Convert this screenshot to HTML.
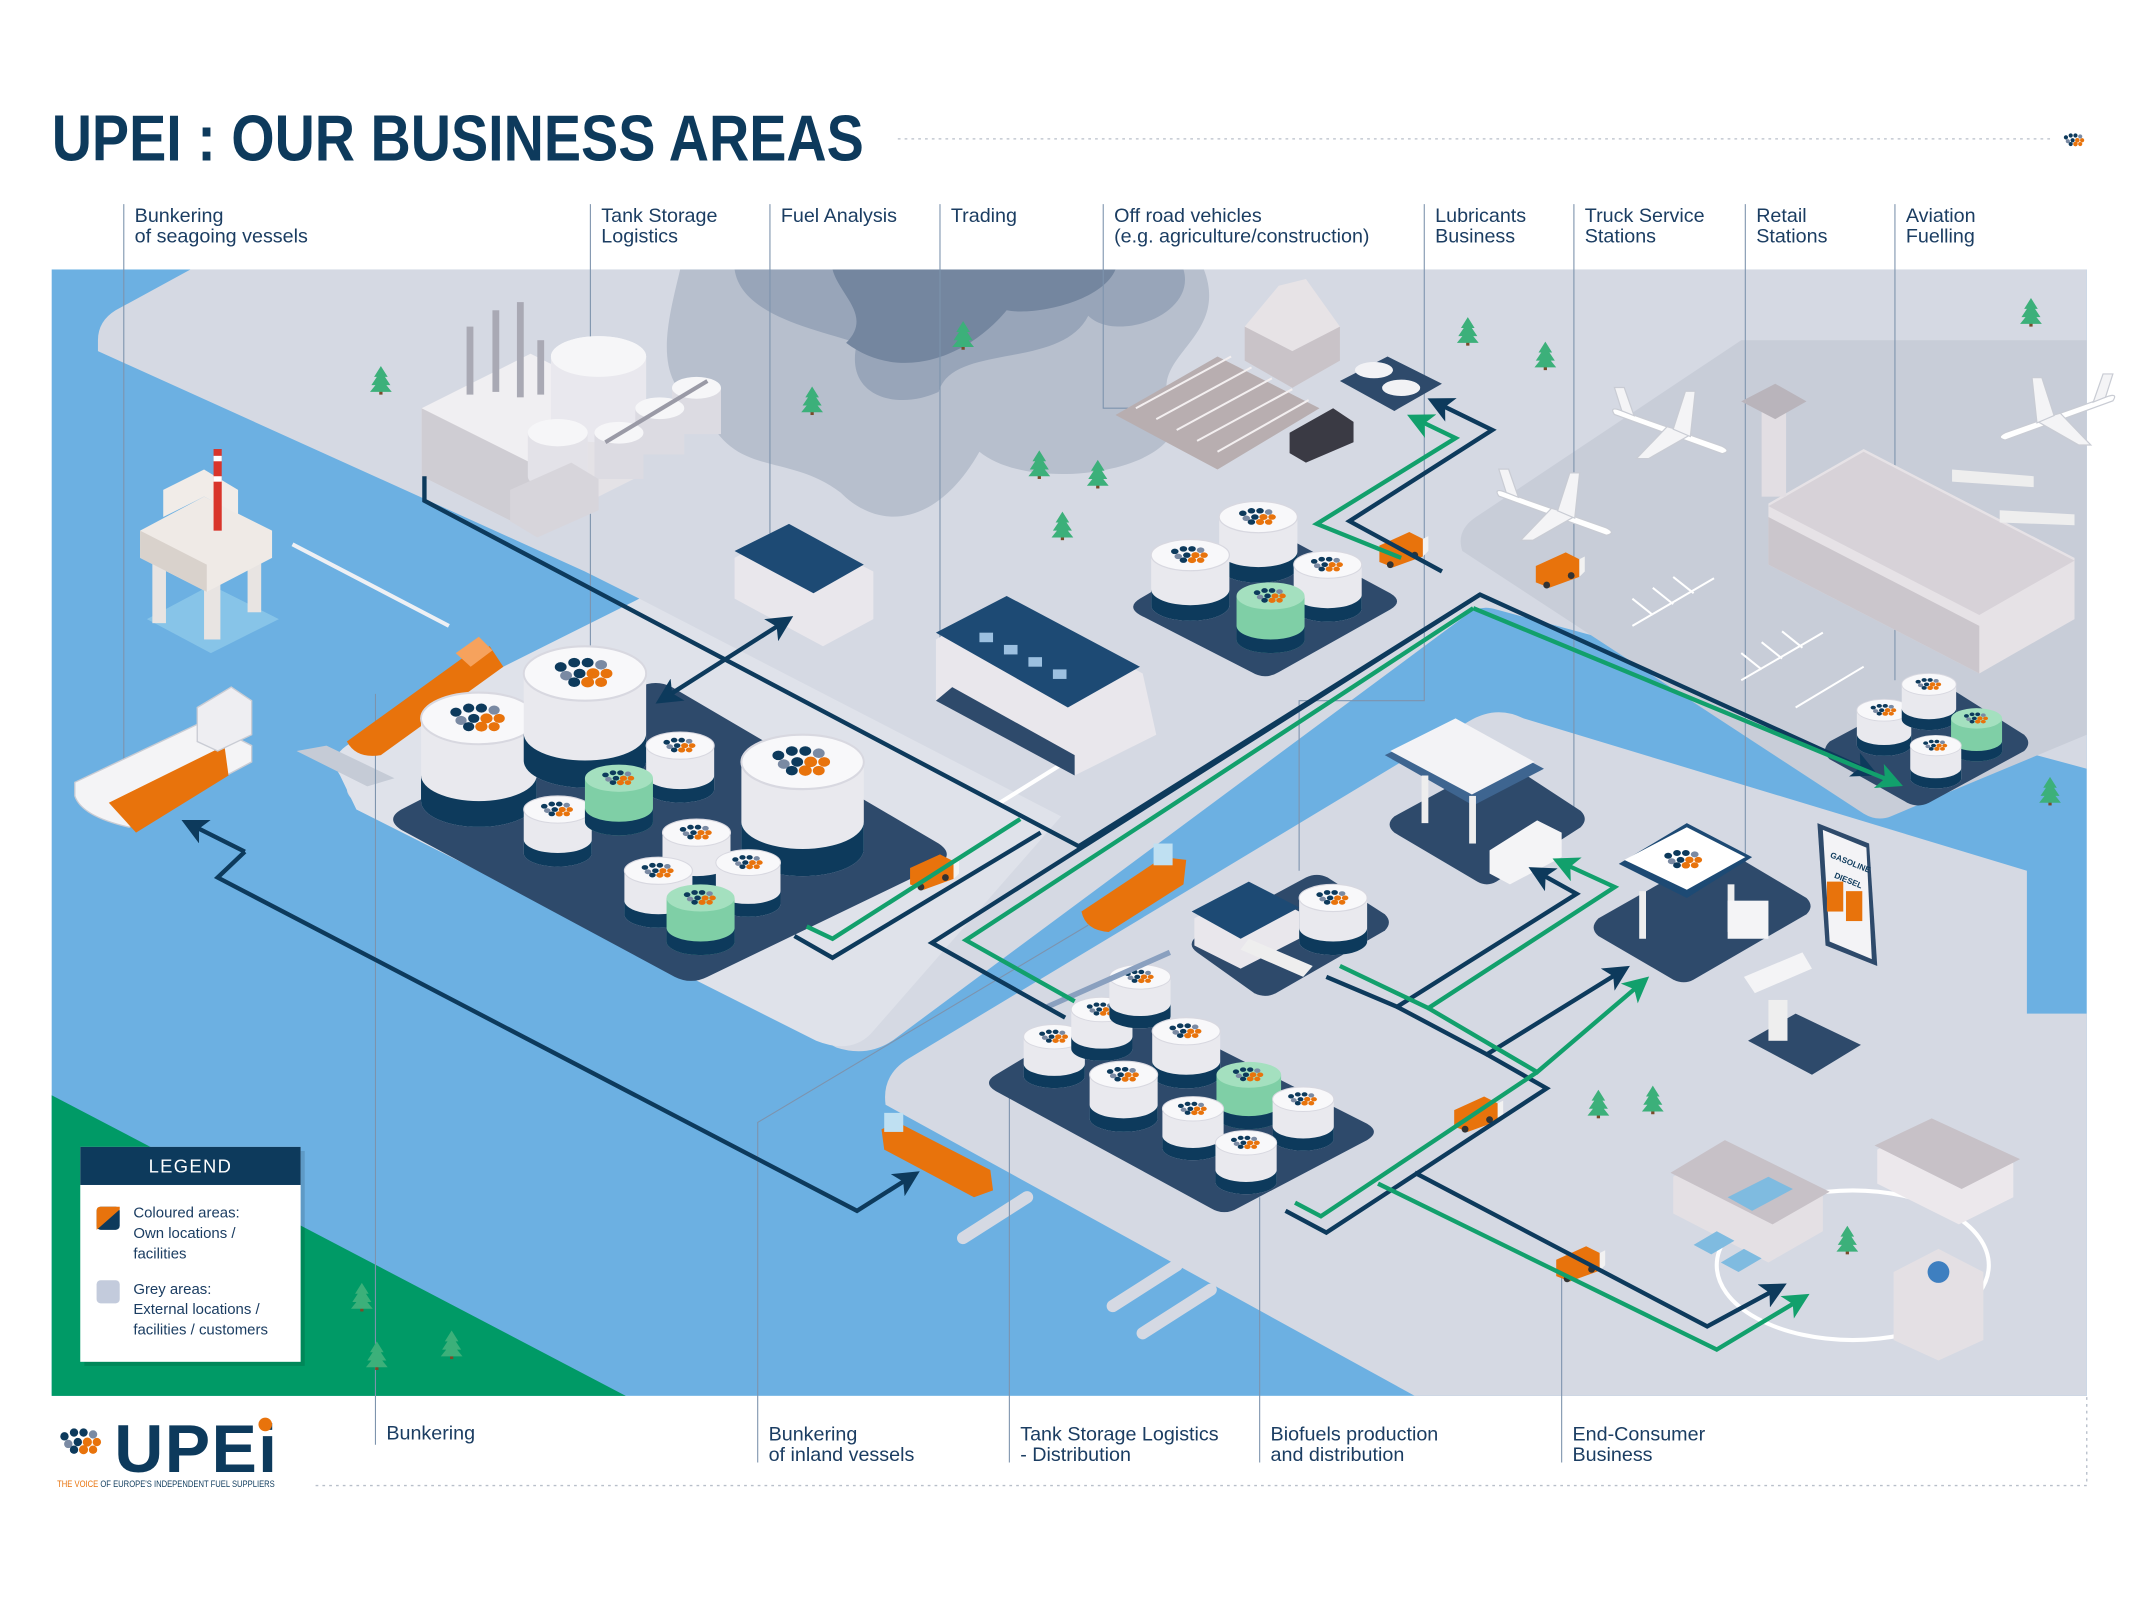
<!DOCTYPE html>
<html><head><meta charset="utf-8"><style>
html,body{margin:0;padding:0;background:#fff;}
svg{display:block;}
text{font-family:"Liberation Sans",sans-serif;}
</style></head><body>
<svg width="2133" height="1600" viewBox="0 0 1568 1176" xmlns="http://www.w3.org/2000/svg">
<defs>
<marker id="an" markerWidth="6" markerHeight="6" refX="3" refY="3" orient="auto" markerUnits="strokeWidth"><path d="M0,0 L6,3 L0,6 L1.5,3Z" fill="#0d3a5c"/></marker>
<marker id="ag" markerWidth="6" markerHeight="6" refX="3" refY="3" orient="auto" markerUnits="strokeWidth"><path d="M0,0 L6,3 L0,6 L1.5,3Z" fill="#12a06c"/></marker>
<marker id="as" markerWidth="6" markerHeight="6" refX="3" refY="3" orient="auto-start-reverse" markerUnits="strokeWidth"><path d="M0,0 L6,3 L0,6 L1.5,3Z" fill="#0d3a5c"/></marker>
<g id="dots">
<circle cx="-9" cy="-3" r="2.2" fill="#0d3a5c"/><circle cx="-4" cy="-5" r="2.2" fill="#0d3a5c"/><circle cx="1" cy="-5" r="2.2" fill="#0d3a5c"/><circle cx="6" cy="-4" r="2.2" fill="#7a8aa3"/>
<circle cx="-7" cy="1" r="2.2" fill="#7a8aa3"/><circle cx="-2" cy="0" r="2.2" fill="#0d3a5c"/><circle cx="3" cy="0" r="2.4" fill="#e8730c"/><circle cx="8" cy="0" r="2.2" fill="#e8730c"/>
<circle cx="-4" cy="4" r="2.2" fill="#0d3a5c"/><circle cx="1" cy="4" r="2.4" fill="#e8730c"/><circle cx="6" cy="4" r="2.2" fill="#e8730c"/>
</g>
<g id="tk">
<path d="M-25,0 v32 a25,10 0 0 0 50,0 v-32z" fill="#e9e9ee"/>
<path d="M-25,22 v10 a25,10 0 0 0 50,0 v-10 a25,10 0 0 1 -50,0z" fill="#0d3a5c"/>
<ellipse cx="0" cy="0" rx="25" ry="10" fill="#f8f8fa" stroke="#d8d8e0" stroke-width="0.8"/>
<use href="#dots" transform="scale(1.1,0.8)"/>
</g>
<g id="tg">
<path d="M-25,0 v32 a25,10 0 0 0 50,0 v-32z" fill="#7fcfa6"/>
<path d="M-25,22 v10 a25,10 0 0 0 50,0 v-10 a25,10 0 0 1 -50,0z" fill="#0d3a5c"/>
<ellipse cx="0" cy="0" rx="25" ry="10" fill="#a4e0bf"/>
<use href="#dots" transform="scale(1.1,0.8)"/>
</g>
<g id="tree"><rect x="-1.2" y="2" width="2.4" height="5" fill="#7a4b2a"/><path d="M0,-14 L-5,-6 L-3,-6 L-7,0 L-4,0 L-8,5 L8,5 L4,0 L7,0 L3,-6 L5,-6Z" fill="#3cb07a"/></g>
<g id="truck"><path d="M-16,-4 L6,-14 L16,-9 L16,4 L-6,12 L-16,8Z" fill="#e8730c"/><path d="M6,-14 L16,-9 L20,-11 L20,0 L16,4 L16,-9" fill="#f2f2f2"/><circle cx="-8" cy="10" r="2.5" fill="#333"/><circle cx="10" cy="3" r="2.5" fill="#333"/></g>
<g id="plane"><path d="M-45,-10 L40,20 Q48,24 40,26 L-48,-6 Q-52,-12 -45,-10Z" fill="#fff" stroke="#c9ccd4"/><path d="M-5,4 L-30,30 L-20,30 L15,10Z" fill="#f4f4f6" stroke="#c9ccd4"/><path d="M0,6 L10,-25 L18,-25 L14,12Z" fill="#f4f4f6" stroke="#c9ccd4"/><path d="M-42,-9 L-48,-28 L-40,-28 L-32,-5Z" fill="#f4f4f6" stroke="#c9ccd4"/></g>
</defs>

<rect width="1568" height="1176" fill="#fff"/>

<!-- Title -->
<text x="38" y="118" font-size="48" font-weight="bold" fill="#0d3a5c" textLength="597" lengthAdjust="spacingAndGlyphs">UPEI : OUR BUSINESS AREAS</text>
<line x1="660" y1="102" x2="1508" y2="102" stroke="#b8bfca" stroke-width="1" stroke-dasharray="2,3"/>
<g transform="translate(1525,103) scale(0.7)"><use href="#dots"/></g>

<!-- Map base -->
<rect x="38" y="198" width="1496" height="828" fill="#6cb0e2"/>
<path d="M72,250 Q72,236 85,228 L140,198 L1534,198 L1534,565 L1100,448 Q1088,444 1078,452 L660,762 Q640,778 615,770 L262,590 Q248,580 262,570 L470,440 L430,420 L72,258Z" fill="#d5d9e3"/>
<path d="M250,570 Q240,555 260,545 L470,440 L780,600 L640,760 Q625,775 600,765 L262,595Z" fill="#dfe2ea"/>
<path d="M1075,405 Q1070,390 1085,380 L1280,250 L1534,250 L1534,540 L1390,600 Q1380,604 1370,598Z" fill="#c8cdd8"/>
<path d="M651,812 Q648,790 668,778 L1080,530 Q1100,518 1120,528 L1490,640 L1490,745 L1534,745 L1534,1026 L1040,1026 Z" fill="#d5d9e3"/>
<path d="M38,805 L460,1026 L38,1026Z" fill="#009a66"/>
<path d="M500,198 L885,198 C905,250 840,262 862,300 C880,345 760,365 720,332 C690,385 648,392 618,362 C578,332 540,352 518,302 C478,282 490,240 500,198Z" fill="#b7bfcd"/>
<path d="M540,198 L870,198 C880,232 820,252 800,232 C780,272 700,252 690,288 C660,302 620,292 630,252 C600,242 545,232 540,198Z" fill="#98a5b9"/>
<path d="M612,198 L820,198 C810,222 760,232 740,228 C712,262 662,282 622,252 C642,232 617,217 612,198Z" fill="#74869f"/>
<line x1="215" y1="400" x2="330" y2="460" stroke="#eef0f4" stroke-width="3"/>
<line x1="735" y1="590" x2="780" y2="562" stroke="#fff" stroke-width="3"/>
<path d="M218,552 L240,548 L290,572 L270,578Z" fill="#c5cbd6"/>
<g stroke="#d5d9e3" stroke-width="9" stroke-linecap="round">
<line x1="708" y1="910" x2="755" y2="880"/>
<line x1="818" y1="960" x2="865" y2="930"/>
<line x1="840" y1="980" x2="890" y2="948"/>
</g>

<!-- label lines -->
<g stroke="#7d93ad" stroke-width="0.8" fill="none">
<line x1="91" y1="150" x2="91" y2="590"/>
<line x1="434" y1="150" x2="434" y2="480"/>
<line x1="566" y1="150" x2="566" y2="392"/>
<line x1="691" y1="150" x2="691" y2="470"/>
<path d="M811,150 V300 H880"/>
<path d="M1047,150 V515 H955 V640"/>
<line x1="1157" y1="150" x2="1157" y2="610"/>
<line x1="1283" y1="150" x2="1283" y2="640"/>
<line x1="1393" y1="150" x2="1393" y2="500"/>
<line x1="276" y1="1062" x2="276" y2="510"/>
<path d="M557,1075 V825 L800,680"/>
<line x1="742" y1="1075" x2="742" y2="800"/>
<line x1="926" y1="1075" x2="926" y2="880"/>
<line x1="1148" y1="1075" x2="1148" y2="925"/>
</g>
<g font-size="14.5" fill="#1b3d62">
<text x="99" y="163">Bunkering</text><text x="99" y="178">of seagoing vessels</text>
<text x="442" y="163">Tank Storage</text><text x="442" y="178">Logistics</text>
<text x="574" y="163">Fuel Analysis</text>
<text x="699" y="163">Trading</text>
<text x="819" y="163">Off road vehicles</text><text x="819" y="178">(e.g. agriculture/construction)</text>
<text x="1055" y="163">Lubricants</text><text x="1055" y="178">Business</text>
<text x="1165" y="163">Truck Service</text><text x="1165" y="178">Stations</text>
<text x="1291" y="163">Retail</text><text x="1291" y="178">Stations</text>
<text x="1401" y="163">Aviation</text><text x="1401" y="178">Fuelling</text>
<text x="284" y="1058">Bunkering</text>
<text x="565" y="1059">Bunkering</text><text x="565" y="1074">of inland vessels</text>
<text x="750" y="1059">Tank Storage Logistics</text><text x="750" y="1074">- Distribution</text>
<text x="934" y="1059">Biofuels production</text><text x="934" y="1074">and distribution</text>
<text x="1156" y="1059">End-Consumer</text><text x="1156" y="1074">Business</text>
</g>
<path d="M232,1092 H1534 V1026" stroke="#b8bfca" stroke-width="1" stroke-dasharray="2,3" fill="none"/>

<!-- refinery -->
<g>
<path d="M310,300 L390,260 L470,300 L470,350 L390,390 L310,350Z" fill="#e4e2e6"/>
<path d="M310,300 L390,340 L390,390 L310,350Z" fill="#cfcdd3"/>
<path d="M310,300 L390,260 L470,300 L390,340Z" fill="#f0eff2"/>
<g fill="#a9a9b4"><rect x="343" y="240" width="5" height="50"/><rect x="362" y="228" width="5" height="60"/><rect x="380" y="222" width="5" height="70"/><rect x="395" y="250" width="5" height="40"/></g>
<ellipse cx="440" cy="262" rx="35" ry="15" fill="#f3f3f6"/><path d="M405,262 V310 A35,15 0 0 0 475,310 V262Z" fill="#e9e8ee"/><ellipse cx="440" cy="262" rx="35" ry="15" fill="#f6f6f8"/>
<ellipse cx="410" cy="318" rx="22" ry="10" fill="#f6f6f8"/><path d="M388,318 V350 A22,10 0 0 0 432,350 V318Z" fill="#e3e2e8"/><ellipse cx="410" cy="318" rx="22" ry="10" fill="#f6f6f8"/>
<g fill="#dcdbe2"><rect x="437" y="318" width="36" height="34"/><rect x="467" y="300" width="36" height="34"/><rect x="494" y="285" width="36" height="34"/></g>
<g fill="#f6f6f8"><ellipse cx="455" cy="318" rx="18" ry="8"/><ellipse cx="485" cy="300" rx="18" ry="8"/><ellipse cx="512" cy="285" rx="18" ry="8"/></g>
<path d="M445,325 L520,280" stroke="#9a9aa6" stroke-width="3"/>
<path d="M375,360 L420,340 L440,352 L440,375 L395,395 L375,383Z" fill="#d7d5db"/>
</g>

<!-- oil platform -->
<g>
<path d="M108,455 L155,430 L205,455 L155,480Z" fill="#8fc9ea" opacity="0.8"/>
<rect x="112" y="408" width="10" height="50" fill="#e8e4e2"/><rect x="150" y="420" width="12" height="50" fill="#e8e4e2"/><rect x="182" y="405" width="10" height="45" fill="#e8e4e2"/>
<path d="M103,390 L150,365 L200,390 L200,410 L152,435 L103,410Z" fill="#efeae6"/>
<path d="M103,390 L152,415 L152,435 L103,410Z" fill="#d9d2cc"/>
<path d="M120,380 L150,365 L175,378 L175,360 L150,345 L120,360Z" fill="#f1ece8"/>
<rect x="157" y="330" width="6" height="60" fill="#d9352b"/><rect x="157" y="335" width="6" height="4" fill="#fff"/><rect x="157" y="350" width="6" height="4" fill="#fff"/>
</g>

<!-- ships -->
<g>
<path d="M55,575 L150,530 L185,548 L185,560 L95,608 Q60,600 55,585Z" fill="#f4f4f6" stroke="#c9ccd4"/>
<path d="M80,590 L165,548 L168,570 L100,612Z" fill="#e8730c"/>
<path d="M145,520 L170,505 L185,515 L185,540 L160,552 L145,545Z" fill="#eeeef2" stroke="#c9ccd4"/>
<path d="M255,545 L345,480 L360,475 L370,490 L280,555 Q262,558 255,545Z" fill="#e8730c"/>
<path d="M335,480 L352,468 L362,478 L346,490Z" fill="#f6a25d"/>
<path d="M795,670 L855,630 L872,632 L870,650 L815,685 Q798,684 795,670Z" fill="#e8730c"/>
<rect x="848" y="620" width="14" height="16" fill="#bfe0f2"/>
<path d="M648,830 L660,825 L728,860 L730,875 L716,880 L650,845Z" fill="#e8730c"/>
<rect x="650" y="818" width="14" height="14" fill="#bfe0f2"/>
</g>

<!-- platforms -->
<g fill="#2e4a6b">
<path d="M295,595 L470,505 Q482,499 494,505 L690,620 Q702,628 690,636 L520,718 Q508,724 496,718 L295,610 Q283,602 295,595Z"/>
<path d="M838,440 L920,392 Q930,386 940,392 L1022,436 Q1032,442 1022,448 L940,494 Q930,500 920,494 L838,452 Q828,446 838,440Z"/>
<path d="M732,790 L815,740 Q825,734 835,740 L1005,826 Q1015,832 1005,838 L910,888 Q900,894 890,888 L732,802 Q722,796 732,790Z"/>
<path d="M1345,545 L1418,506 Q1426,502 1434,506 L1488,540 Q1494,546 1488,552 L1418,590 Q1410,594 1402,590 L1345,558 Q1338,552 1345,545Z"/>
<path d="M880,688 L960,645 Q968,641 976,645 L1018,672 Q1024,678 1018,684 L938,730 Q930,734 922,730 L880,700 Q872,694 880,688Z"/>
<path d="M1025,600 L1095,562 Q1102,558 1110,562 L1162,596 Q1168,602 1162,608 L1100,648 Q1093,652 1086,648 L1025,612 Q1018,606 1025,600Z"/>
<path d="M1175,675 L1258,628 Q1266,624 1274,628 L1328,660 Q1334,666 1328,672 L1245,720 Q1238,724 1230,720 L1175,688 Q1168,682 1175,675Z"/>
<path d="M1285,765 L1320,745 L1368,768 L1332,790Z"/>
<path d="M985,280 L1020,262 L1060,282 L1025,302Z"/>
</g>

<!-- tanks -->
<use href="#tk" transform="translate(352,528) scale(1.7,1.9)"/>
<use href="#tk" transform="translate(430,495) scale(1.8,2)"/>
<use href="#tk" transform="translate(590,560) scale(1.8,2)"/>
<use href="#tk" transform="translate(500,548)"/>
<use href="#tk" transform="translate(410,595)"/>
<use href="#tg" transform="translate(455,572)"/>
<use href="#tk" transform="translate(512,612)"/>
<use href="#tk" transform="translate(550,634) scale(0.95)"/>
<use href="#tk" transform="translate(484,640)"/>
<use href="#tg" transform="translate(515,660)"/>
<use href="#tk" transform="translate(925,380) scale(1.15)"/>
<use href="#tk" transform="translate(875,408) scale(1.15)"/>
<use href="#tk" transform="translate(976,415)"/>
<use href="#tg" transform="translate(934,438)"/>
<use href="#tk" transform="translate(775,762) scale(0.9)"/>
<use href="#tk" transform="translate(810,742) scale(0.9)"/>
<use href="#tk" transform="translate(838,718) scale(0.9)"/>
<use href="#tk" transform="translate(872,758)"/>
<use href="#tk" transform="translate(826,790)"/>
<use href="#tg" transform="translate(918,790) scale(0.95)"/>
<use href="#tk" transform="translate(958,808) scale(0.9)"/>
<use href="#tk" transform="translate(877,815) scale(0.9)"/>
<use href="#tk" transform="translate(916,840) scale(0.9)"/>
<use href="#tk" transform="translate(980,660)"/>
<use href="#tk" transform="translate(1385,522) scale(0.8)"/>
<use href="#tk" transform="translate(1418,503) scale(0.8)"/>
<use href="#tg" transform="translate(1453,528) scale(0.75)"/>
<use href="#tk" transform="translate(1423,548) scale(0.75)"/>
<path d="M770,740 L860,700" stroke="#8aa0bf" stroke-width="4"/>

<!-- warehouses -->
<g>
<path d="M540,410 L580,388 L642,420 L642,455 L605,475 L540,440Z" fill="#e9e7ec"/>
<path d="M540,405 L580,385 L635,415 L598,436Z" fill="#1d4a74"/>
<path d="M688,470 L740,440 L840,495 L850,540 L790,570 L688,515Z" fill="#e9e7ec"/>
<path d="M688,515 L790,570 L790,555 L700,505Z" fill="#2e4a6b"/>
<path d="M688,465 L740,438 L838,490 L785,520Z" fill="#1d4a74"/>
<g fill="#9cc0e0"><rect x="720" y="465" width="10" height="7"/><rect x="738" y="474" width="10" height="7"/><rect x="756" y="483" width="10" height="7"/><rect x="774" y="492" width="10" height="7"/></g>
<path d="M878,675 L920,652 L955,670 L955,690 L912,712 L878,695Z" fill="#e9e7ec"/>
<path d="M876,670 L918,648 L955,667 L912,690Z" fill="#1d4a74"/>
<path d="M918,690 L965,710 L958,718 L912,698Z" fill="#eee"/>
</g>

<!-- farm -->
<path d="M820,305 L895,262 L970,300 L895,345Z" fill="#b8aeb0"/>
<g stroke="#f3eff0" stroke-width="1.5"><path d="M835,300 L905,262 M850,308 L920,270 M865,316 L935,278 M880,324 L950,286 M895,332 L962,294"/></g>
<path d="M915,240 L950,220 L985,240 L985,265 L950,285 L915,265Z" fill="#c9c3c8"/>
<path d="M915,240 L940,210 L960,205 L985,240 L950,258Z" fill="#e7e3e6"/>
<path d="M948,318 L980,300 L995,310 L995,325 L960,340 L948,333Z" fill="#3a3a44"/>
<g fill="#f2f2f5"><ellipse cx="1010" cy="272" rx="14" ry="6"/><ellipse cx="1030" cy="285" rx="14" ry="6"/></g>

<!-- airport -->
<path d="M1300,370 L1370,330 L1525,410 L1525,455 L1455,495 L1300,415Z" fill="#e6e2e6"/>
<path d="M1300,415 L1455,495 L1455,460 L1300,380Z" fill="#cbc6cc"/>
<path d="M1300,372 L1370,332 L1525,412 L1455,452Z" fill="#d7d2d8"/>
<rect x="1295" y="300" width="18" height="65" fill="#e2dee3"/>
<path d="M1280,295 L1305,282 L1328,295 L1305,308Z" fill="#b9b4bb"/>
<path d="M1435,345 L1495,350 L1495,358 L1435,354Z" fill="#eee"/><path d="M1470,375 L1525,378 L1525,386 L1470,384Z" fill="#eee"/>
<g stroke="#fff" stroke-width="1.5"><path d="M1200,460 L1260,425 M1215,452 L1200,440 M1230,444 L1215,432 M1245,436 L1230,424 M1280,500 L1340,465 M1295,492 L1280,480 M1310,484 L1295,472 M1325,476 L1310,464 M1320,520 L1370,490"/></g>
<use href="#plane" transform="translate(1230,310) scale(0.9)"/>
<use href="#plane" transform="translate(1145,370) scale(0.9)"/>
<use href="#plane" transform="translate(1510,300) scale(0.9) scale(-1,1)"/>
<use href="#truck" transform="translate(1145,420)"/>

<!-- stations -->
<path d="M1018,555 L1070,530 L1135,565 L1083,592Z" fill="#3e6590"/><path d="M1022,552 L1070,528 L1128,560 L1082,584Z" fill="#f3f3f6"/>
<rect x="1045" y="570" width="5" height="35" fill="#eee"/><rect x="1080" y="585" width="5" height="35" fill="#eee"/>
<path d="M1095,625 L1130,603 L1148,612 L1148,630 L1110,650 L1095,642Z" fill="#f4f4f6"/>
<path d="M1190,635 L1240,605 L1288,630 L1240,660Z" fill="#1d4a74"/><path d="M1194,632 L1240,608 L1283,630 L1240,654Z" fill="#fff"/>
<use href="#dots" transform="translate(1238,632) scale(1.3,1)"/>
<rect x="1205" y="655" width="5" height="35" fill="#eee"/><rect x="1270" y="650" width="5" height="35" fill="#eee"/>
<rect x="1270" y="662" width="30" height="28" fill="#f4f4f6"/>
<path d="M1282,718 L1325,700 L1332,712 L1290,730Z" fill="#f4f4f6"/>
<rect x="1300" y="735" width="14" height="30" fill="#eee"/>
<path d="M1336,605 L1374,620 L1380,710 L1342,695Z" fill="#2e4a6b"/><path d="M1340,610 L1372,623 L1376,705 L1345,692Z" fill="#f3f3f6"/>
<rect x="1343" y="648" width="12" height="22" fill="#e8730c"/><rect x="1357" y="655" width="12" height="22" fill="#e8730c"/>
<text x="1345" y="630" font-size="6" font-weight="bold" fill="#0d3a5c" transform="rotate(22 1345 630)">GASOLINE</text>
<text x="1348" y="645" font-size="6" font-weight="bold" fill="#0d3a5c" transform="rotate(22 1348 645)">DIESEL</text>

<!-- end consumer -->
<ellipse cx="1362" cy="930" rx="100" ry="55" fill="none" stroke="#fff" stroke-width="3"/>
<path d="M1230,865 L1270,842 L1340,878 L1340,905 L1300,928 L1230,892Z" fill="#e4e0e4"/>
<path d="M1228,862 L1268,838 L1345,876 L1303,900Z" fill="#c7c1c7"/>
<g fill="#7fbbe0"><path d="M1270,880 L1300,865 L1318,874 L1288,890Z"/><path d="M1245,915 L1262,905 L1275,912 L1258,922Z"/><path d="M1265,928 L1282,918 L1295,925 L1278,935Z"/></g>
<path d="M1380,845 L1420,825 L1480,855 L1480,880 L1440,900 L1380,870Z" fill="#ece8ec"/>
<path d="M1378,842 L1420,822 L1485,852 L1442,874Z" fill="#c7c1c7"/>
<path d="M1392,935 L1425,918 L1458,935 L1458,985 L1425,1000 L1392,985Z" fill="#e4e0e4"/>
<circle cx="1425" cy="935" r="8" fill="#3e7fc0"/>
<use href="#truck" transform="translate(1160,930)"/>

<use href="#truck" transform="translate(685,642)"/>
<use href="#truck" transform="translate(1030,405)"/>
<use href="#truck" transform="translate(1085,820)"/>

<!-- trees -->
<g>
<use href="#tree" x="280" y="283"/><use href="#tree" x="597" y="298"/><use href="#tree" x="708" y="250"/><use href="#tree" x="764" y="345"/><use href="#tree" x="807" y="352"/><use href="#tree" x="781" y="390"/><use href="#tree" x="1079" y="247"/><use href="#tree" x="1136" y="265"/><use href="#tree" x="1493" y="233"/><use href="#tree" x="1507" y="585"/><use href="#tree" x="1175" y="815"/><use href="#tree" x="1215" y="812"/><use href="#tree" x="266" y="957"/><use href="#tree" x="277" y="1000"/><use href="#tree" x="332" y="992"/><use href="#tree" x="1358" y="915"/>
</g>

<!-- connectors -->
<g fill="none" stroke-width="3.2" stroke-linejoin="miter">
<polyline stroke="#0d3a5c" points="312,350 312,368 793,622 1088,437 1372,566" marker-end="url(#an)"/>
<polyline stroke="#0d3a5c" points="1088,437 685,693 783,748"/>
<polyline stroke="#12a06c" points="1083,447 710,691 790,736"/>
<polyline stroke="#12a06c" points="1083,447 1390,574" marker-end="url(#ag)"/>
<polyline stroke="#0d3a5c" points="1060,420 992,383 1097,316 1058,297" marker-end="url(#an)"/>
<polyline stroke="#12a06c" points="1030,410 968,385 1070,322 1043,309" marker-end="url(#ag)"/>
<polyline stroke="#12a06c" points="593,681 612,690 750,602"/>
<polyline stroke="#0d3a5c" points="584,688 612,704 765,612"/>
<polyline stroke="#0d3a5c" points="490,512 575,458" marker-start="url(#as)" marker-end="url(#an)"/>
<polyline stroke="#0d3a5c" points="180,626 142,607" marker-end="url(#an)"/>
<polyline stroke="#0d3a5c" points="180,626 160,645 630,890 668,866" marker-end="url(#an)"/>
<polyline stroke="#0d3a5c" points="975,718 1027,740 1159,657 1132,642" marker-end="url(#an)"/>
<polyline stroke="#12a06c" points="985,710 1050,741 1187,652 1150,635" marker-end="url(#ag)"/>
<polyline stroke="#0d3a5c" points="1027,740 1093,775 1190,715" marker-end="url(#an)"/>
<polyline stroke="#12a06c" points="1050,741 1130,788 1205,724" marker-end="url(#ag)"/>
<polyline stroke="#0d3a5c" points="1093,775 1137,800 975,906 945,890"/>
<polyline stroke="#12a06c" points="1130,788 971,894 952,884"/>
<polyline stroke="#0d3a5c" points="1040,862 1255,975 1305,948" marker-end="url(#an)"/>
<polyline stroke="#12a06c" points="1013,870 1262,992 1322,956" marker-end="url(#ag)"/>
</g>

<!-- legend -->
<rect x="62" y="846" width="162" height="158" fill="#000" opacity="0.12"/>
<rect x="59" y="843" width="162" height="158" fill="#fff"/>
<rect x="59" y="843" width="162" height="28" fill="#0d3a5c"/>
<text x="140" y="862" font-size="13.5" fill="#fff" text-anchor="middle" letter-spacing="1">LEGEND</text>
<rect x="71" y="887" width="17" height="17" rx="3" fill="#0d3a5c"/><path d="M74,887 L88,887 L88,889 L71,904 L71,890 Q71,887 74,887Z" fill="#e8730c"/>
<rect x="71" y="941" width="17" height="17" rx="3" fill="#c3cbdc"/>
<g font-size="11" fill="#1b3d62">
<text x="98" y="895">Coloured areas:</text><text x="98" y="910">Own locations /</text><text x="98" y="925">facilities</text>
<text x="98" y="951">Grey areas:</text><text x="98" y="966">External locations /</text><text x="98" y="981">facilities / customers</text>
</g>

<!-- logo -->
<g transform="translate(60,1060) scale(1.4)"><use href="#dots"/></g>
<text x="84" y="1082" font-size="50" font-weight="bold" fill="#0d3a5c" letter-spacing="1">UPEi</text>
<circle cx="195" cy="1047" r="5" fill="#e8730c"/>
<text x="42" y="1093" font-size="6.5" fill="#0d3a5c" textLength="160" lengthAdjust="spacingAndGlyphs"><tspan fill="#e8730c">THE VOICE</tspan> OF EUROPE'S INDEPENDENT FUEL SUPPLIERS</text>
</svg>
</body></html>
